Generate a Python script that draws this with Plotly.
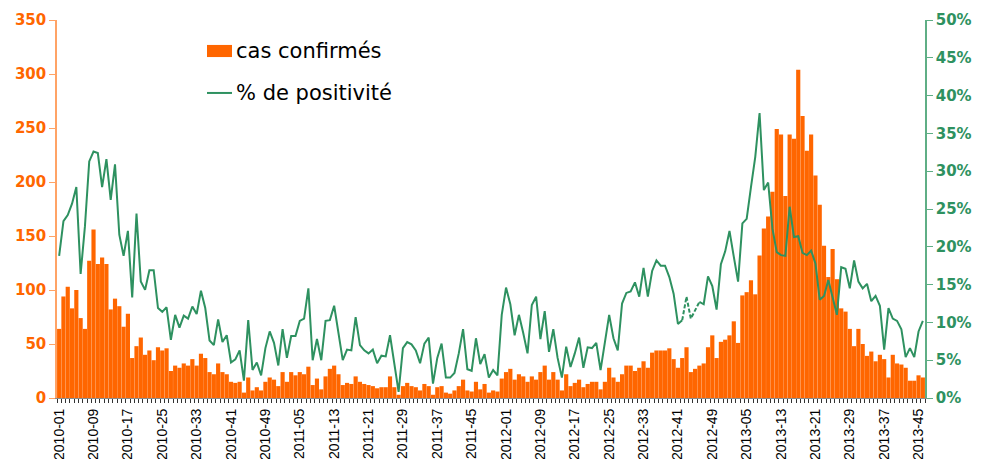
import plotly.graph_objects as go

# weekly categories 2010-01 .. 2013-46
YEARS = [2010, 2011, 2012, 2013]
WEEKS_IN_YEAR = [52, 52, 52, 46]
weeks = [f"{y}-{w:02d}" for y, n in zip(YEARS, WEEKS_IN_YEAR) for w in range(1, n + 1)]

# confirmed cases per week
cases_2010 = [64, 94, 103, 83, 100, 74, 64, 127, 156, 124, 130, 124, 82, 92, 85, 66,
              78, 37, 48, 56, 40, 44, 35, 47, 44, 46, 25, 30, 28, 32, 30, 36, 30, 41,
              37, 24, 22, 32, 24, 22, 15, 14, 15, 5, 19, 7, 10, 7, 15, 19, 17, 11]
cases_2011 = [24, 15, 24, 21, 24, 22, 29, 12, 18, 8, 20, 27, 30, 22, 12, 14, 13, 20,
              15, 13, 12, 11, 9, 10, 10, 20, 10, 3, 11, 14, 11, 10, 7, 13, 11, 3, 10,
              11, 5, 4, 7, 11, 17, 7, 6, 15, 8, 13, 5, 7, 6, 18]
cases_2012 = [24, 27, 17, 22, 20, 15, 20, 17, 24, 30, 17, 24, 17, 7, 22, 11, 14, 17,
              10, 13, 15, 15, 8, 15, 28, 19, 15, 22, 30, 30, 25, 28, 34, 28, 42, 44,
              44, 44, 46, 36, 28, 37, 47, 24, 27, 30, 32, 47, 58, 37, 52, 54]
cases_2013 = [58, 71, 51, 95, 98, 109, 96, 132, 157, 168, 191, 249, 244, 187, 244, 240,
              304, 261, 229, 244, 206, 179, 141, 112, 138, 110, 83, 80, 64, 48, 64, 50,
              39, 43, 34, 40, 36, 19, 40, 32, 31, 28, 16, 16, 21, 19]

# % of positive samples per week
pct_2010 = [18.8, 23.4, 24.2, 25.7, 27.9, 16.4, 22.7, 31.3, 32.6, 32.4, 27.9, 31.6, 26.2,
            30.9, 21.6, 18.8, 22.1, 13.3, 24.4, 15.4, 14.3, 16.9, 16.9, 11.9, 11.4, 12.0,
            7.7, 11.0, 9.3, 10.9, 10.5, 12.1, 11.1, 14.2, 11.9, 7.6, 7.0, 10.4, 7.4, 8.3,
            4.7, 5.1, 6.3, 2.3, 10.3, 3.7, 4.7, 3.0, 6.6, 8.8, 7.3, 4.3]
pct_2011 = [9.1, 5.3, 8.2, 8.2, 10.2, 10.5, 14.5, 5.0, 7.8, 5.0, 10.2, 10.3, 12.2, 8.6,
            5.0, 6.4, 6.3, 10.7, 7.0, 6.3, 5.9, 6.4, 4.6, 5.6, 5.5, 8.3, 4.4, 0.8, 6.6,
            7.4, 7.1, 6.3, 4.6, 7.2, 8.0, 1.9, 5.3, 7.2, 2.7, 2.7, 3.3, 5.9, 9.1, 3.8,
            3.6, 7.9, 4.5, 5.8, 2.7, 3.7, 3.0, 11.0]
pct_2012 = [14.6, 12.4, 8.3, 11.0, 8.6, 5.9, 12.3, 13.4, 7.8, 11.5, 6.1, 9.1, 5.3, 2.7,
            6.8, 4.1, 5.9, 8.0, 4.0, 6.7, 6.6, 7.3, 3.7, 7.7, 11.0, 7.9, 6.3, 12.5, 13.9,
            14.1, 15.3, 13.4, 17.2, 13.4, 16.8, 18.2, 17.5, 17.5, 16.0, 13.8, 9.8, 10.3,
            13.4, 10.5, 11.6, 12.7, 12.4, 16.1, 14.8, 11.7, 17.7, 19.4]
pct_2013 = [22.1, 18.7, 15.4, 23.1, 23.7, 27.9, 31.9, 37.7, 27.5, 28.5, 22.4, 19.3, 18.9,
            18.8, 25.3, 21.3, 21.4, 19.2, 18.9, 19.5, 17.8, 13.0, 13.5, 15.6, 13.4, 11.0,
            17.3, 17.1, 14.5, 18.2, 15.4, 14.5, 15.1, 12.8, 13.5, 12.2, 6.4, 11.9, 10.5,
            10.2, 9.1, 5.4, 6.6, 5.4, 8.8, 10.2]

# weeks drawn with a dashed segment (2012-42 .. 2012-46)
DASHED_WEEKS = ["2012-42", "2012-43", "2012-44", "2012-45", "2012-46"]

left_ticks = [0, 50, 100, 150, 200, 250, 300, 350]
right_ticks = [0, 5, 10, 15, 20, 25, 30, 35, 40, 45, 50]

cases = cases_2010 + cases_2011 + cases_2012 + cases_2013
pct = pct_2010 + pct_2011 + pct_2012 + pct_2013

ORANGE = "#FF6600"
GREEN = "#2E9160"

xs = list(range(len(weeks)))
inner = DASHED_WEEKS[1:-1]
pct_solid = [None if w in inner else v for w, v in zip(weeks, pct)]
pct_dash = [v if w in DASHED_WEEKS else None for w, v in zip(weeks, pct)]

fig = go.Figure()
fig.add_trace(go.Bar(
    x=xs, y=cases, name="cas confirmés",
    marker=dict(color=ORANGE, line=dict(width=0)),
    showlegend=False,
))
fig.add_trace(go.Scatter(
    x=xs, y=pct_solid, yaxis="y2", mode="lines", name="% de positivité",
    line=dict(color=GREEN, width=2), connectgaps=False, showlegend=False,
))
fig.add_trace(go.Scatter(
    x=xs, y=pct_dash, yaxis="y2", mode="lines",
    line=dict(color=GREEN, width=2, dash="4px,2px"), showlegend=False,
))

tick_idx = list(range(0, len(weeks), 8))

# page body has an 8px default margin, so the figure is 8px smaller each way
fig.update_layout(
    width=974, height=451,
    margin=dict(l=49, r=57, t=12, b=61),
    plot_bgcolor="white", paper_bgcolor="white",
    bargap=0.03,
    xaxis=dict(
        range=[-0.5, len(weeks) - 0.5], automargin=False,
        tickvals=tick_idx, ticktext=[weeks[i] for i in tick_idx],
        tickangle=-90, ticks="", ticklabelstandoff=4,
        tickfont=dict(family="Arial, Liberation Sans", size=14, color="black"),
        showgrid=False, zeroline=False,
        showline=True, linecolor="#8C8C8C", linewidth=1,
        minor=dict(ticks="outside", tick0=-0.5, dtick=1, ticklen=4,
                   tickcolor="#333333", tickwidth=1, showgrid=False),
    ),
    yaxis=dict(
        range=[0, 350], automargin=False,
        tickvals=left_ticks, ticktext=[str(v) for v in left_ticks],
        tickfont=dict(family="DejaVu Sans", size=15, color=ORANGE, weight="bold"),
        showgrid=False, zeroline=False,
        showline=True, linecolor="#FFA366", linewidth=1.5,
        ticks="outside", ticklen=6, tickcolor="#FFA366",
    ),
    yaxis2=dict(
        range=[0, 50], automargin=False,
        tickvals=right_ticks, ticktext=[f"{v}%" for v in right_ticks],
        overlaying="y", side="right",
        tickfont=dict(family="DejaVu Sans", size=15, color=GREEN, weight="bold"),
        showgrid=False, zeroline=False,
        showline=True, linecolor="#5FAE85", linewidth=1.5,
        ticks="outside", ticklen=6, tickcolor="#5FAE85",
    ),
    shapes=[
        dict(type="rect", xref="paper", yref="paper",
             x0=0.1728, x1=0.2016, y0=0.902, y1=0.934,
             fillcolor=ORANGE, line=dict(width=0)),
        dict(type="line", xref="paper", yref="paper",
             x0=0.1728, x1=0.2016, y0=0.807, y1=0.807,
             line=dict(color=GREEN, width=2)),
    ],
    annotations=[
        dict(text="cas confirmés", xref="paper", yref="paper", x=0.204, y=0.918,
             xanchor="left", yanchor="middle", showarrow=False,
             font=dict(family="DejaVu Sans", size=21, color="black")),
        dict(text="% de positivité", xref="paper", yref="paper", x=0.204, y=0.807,
             xanchor="left", yanchor="middle", showarrow=False,
             font=dict(family="DejaVu Sans", size=21, color="black")),
    ],
)

fig.write_html("out.html")
